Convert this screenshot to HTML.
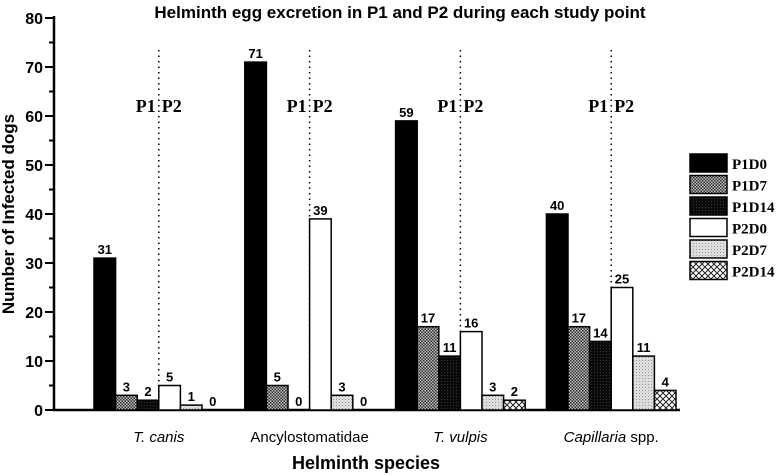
<!DOCTYPE html>
<html><head><meta charset="utf-8"><style>
html,body{margin:0;padding:0;background:#fff;}
svg{display:block;font-family:"Liberation Sans",Arial,sans-serif;}
</style></head><body>
<svg id="chart" width="778" height="475" viewBox="0 0 778 475">
<defs>
<pattern id="p1d7" width="3" height="3" patternUnits="userSpaceOnUse"><rect width="3" height="3" fill="#bbb"/><rect width="1.5" height="1.5" fill="#333"/><rect x="1.5" y="1.5" width="1.5" height="1.5" fill="#333"/></pattern>
<pattern id="p1d14" width="3" height="3" patternUnits="userSpaceOnUse"><rect width="3" height="3" fill="#0a0a0a"/><rect width="1" height="1" fill="#333"/></pattern>
<pattern id="p2d7" width="3" height="3" patternUnits="userSpaceOnUse"><rect width="3" height="3" fill="#ddd"/><rect width="1" height="1" fill="#999"/></pattern>
<pattern id="p2d14" width="6" height="6" patternUnits="userSpaceOnUse"><rect width="6" height="6" fill="#fff"/><path d="M0 0L6 6M6 0L0 6" stroke="#222" stroke-width="1"/></pattern>
</defs>
<text x="400" y="18" text-anchor="middle" font-weight="bold" font-size="17">Helminth egg excretion in P1 and P2 during each study point</text>
<text transform="translate(14,214) rotate(-90)" text-anchor="middle" font-weight="bold" font-size="17">Number of Infected dogs</text>
<text x="366" y="469" text-anchor="middle" font-weight="bold" font-size="18">Helminth species</text>
<g id="axes"></g>
<g id="bars"></g>
<g id="legend"></g>
</svg>
<script>
const categories = ["T. canis","Ancylostomatidae","T. vulpis","Capillaria spp."];
const seriesNames = ["P1D0","P1D7","P1D14","P2D0","P2D7","P2D14"];
const P1D0 = [31,71,59,40];
const P1D7 = [3,5,17,17];
const P1D14 = [2,0,11,14];
const P2D0 = [5,39,16,25];
const P2D7 = [1,3,3,11];
const P2D14 = [0,0,2,4];
const yTicks = [0,10,20,30,40,50,60,70,80];
const series = [P1D0,P1D7,P1D14,P2D0,P2D7,P2D14];
const fills = ["#000","url(#p1d7)","url(#p1d14)","#fff","url(#p2d7)","url(#p2d14)"];
const NS="http://www.w3.org/2000/svg";
const y0=410, yTop=18, yMax=80, ax=54;
function ys(v){return y0-(v/yMax)*(y0-yTop);}
const gStart=94, gStep=150.8, bw=21.6;
function xs(g,s){return gStart+g*gStep+s*bw;}
function mk(tag,attrs,parent,txt){const e=document.createElementNS(NS,tag);for(const k in attrs)e.setAttribute(k,attrs[k]);if(txt!==undefined)e.textContent=txt;parent.appendChild(e);return e;}
const axes=document.getElementById('axes'), bars=document.getElementById('bars'), leg=document.getElementById('legend');
let yl=mk('line',{x1:ax,y1:yTop-2,x2:ax,y2:y0+1,stroke:'#000','stroke-width':2.5},axes);


let xl=mk('line',{x1:ax-1,y1:y0,x2:680,y2:y0,stroke:'#000','stroke-width':2.5},axes);


yTicks.forEach(t=>{
  mk('line',{x1:ax-9,x2:ax,y1:ys(t),y2:ys(t),stroke:'#000','stroke-width':2},axes);
  if(t<yMax) mk('line',{x1:ax-5,x2:ax,y1:ys(t+5),y2:ys(t+5),stroke:'#000','stroke-width':2},axes);
  let tl=mk('text',{x:43,y:ys(t)+6,'text-anchor':'end','font-weight':'bold','font-size':16},axes,String(t));
  
  
});
categories.forEach((c,g)=>{
  let cl=mk('text',{x:xs(g,3),y:442,'text-anchor':'middle','font-size':15,'font-style':g===1?'normal':'italic'},axes);
  
  
  if(g===3){mk('tspan',{},cl,'Capillaria');mk('tspan',{'font-style':'normal'},cl,' spp.');} else cl.textContent=c;
  const dx=xs(g,3);
  let dl=mk('line',{x1:dx,x2:dx,y1:50,y2:y0,stroke:'#000','stroke-width':1.5,'stroke-dasharray':'1.5,4'},axes);
  
  
  let p1=mk('text',{x:dx-3,y:112,'text-anchor':'end','font-family':'Liberation Serif,serif','font-weight':'bold','font-size':18},axes,'P1');
  
  
  let p2=mk('text',{x:dx+3,y:112,'font-family':'Liberation Serif,serif','font-weight':'bold','font-size':18},axes,'P2');
  
  
  series.forEach((arr,s)=>{
    const v=arr[g], x=xs(g,s);
    if(v>0){
      let r=mk('rect',{x:x,y:ys(v),width:bw,height:y0-ys(v),fill:fills[s],stroke:'#000','stroke-width':1.5},bars);
      
      
    }
    let vl=mk('text',{x:x+bw/2,y:ys(v)-4,'text-anchor':'middle','font-weight':'bold','font-size':13},bars,String(v));
    
    
  });
});
seriesNames.forEach((n,i)=>{
  const yy=154+i*21.5;
  let r=mk('rect',{x:690,y:yy,width:37,height:18,fill:fills[i],stroke:'#000','stroke-width':1.5},leg);
  
  
  let t=mk('text',{x:732,y:yy+15,'font-family':'Liberation Serif,serif','font-weight':'bold','font-size':15},leg,n);
  
  
});
</script>
</body></html>
